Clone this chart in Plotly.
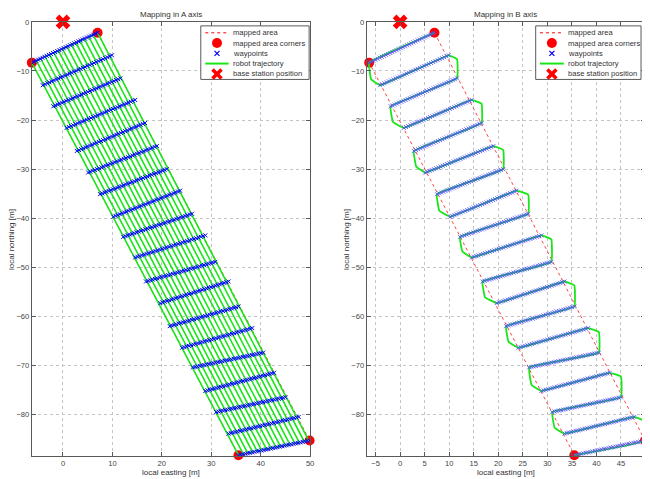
import plotly.graph_objects as go

# ---------------- data ----------------
# corners of the mapped area (local easting / northing, metres)
corner_east = [-6.3, 7.0, 49.9, 35.5]
corner_north = [-8.3, -2.2, -85.3, -88.3]
# base station position
base_east = [0.0]
base_north = [0.0]

# waypoint rows (end points of each row of waypoints)
row_left_east = [-6.3, -4.1, -1.95, 0.75, 2.8, 5.1, 7.5, 10.2, 12.2, 14.6,
                 16.8, 19.7, 21.6, 24.1, 26.3, 28.8, 31.0, 33.5, 35.5]
row_left_north = [-8.3, -12.9, -17.2, -21.6, -26.3, -30.7, -35.1, -39.7, -43.8, -48.0,
                  -52.9, -57.3, -62.0, -66.4, -70.4, -75.2, -79.5, -83.9, -88.3]
row_right_east = [7.0, 9.9, 11.6, 14.6, 16.6, 19.0, 21.0, 23.7, 26.1, 28.8,
                  30.8, 33.5, 35.5, 38.3, 40.5, 42.7, 45.0, 47.7, 49.9]
row_right_north = [-2.2, -6.8, -11.5, -15.9, -20.6, -25.3, -30.0, -34.4, -39.1, -43.5,
                   -48.9, -52.9, -58.0, -62.4, -67.4, -71.5, -76.5, -80.5, -85.3]
waypoints_per_row = [32, 32, 32, 32, 32, 32, 32, 32, 32, 32,
                     32, 32, 32, 32, 32, 32, 32, 32, 32]

# B-axis trajectory: bend point of each turn between two rows (turn 1 .. 18)
turn_east = [-5.9, 11.6, -1.45, 16.6, 3.3, 21.0, 8.0, 26.1, 12.7,
             30.8, 17.3, 35.5, 22.1, 40.5, 26.8, 45.0, 31.5, 49.7]
turn_north = [-11.7, -7.6, -20.4, -16.7, -29.5, -26.1, -38.5, -35.2, -46.8,
              -44.3, -56.1, -53.7, -65.2, -63.2, -74.0, -72.3, -82.7, -81.3]

# A-axis passes (top and bottom end of each pass)
col_top_east = [-6.3, -5.4, -4.5, -3.6, -2.7, -1.8, -0.9, -0.1, 0.8, 1.7, 2.6, 3.4, 4.3, 5.2, 6.1, 7.0]
col_top_north = [-8.3, -7.9, -7.5, -7.1, -6.7, -6.3, -5.9, -5.5, -5.0, -4.6, -4.2, -3.8, -3.4, -3.0, -2.6, -2.2]
col_bottom_east = [35.5, 36.5, 37.4, 38.4, 39.3, 40.2, 41.2, 42.1, 43.1, 44.0, 45.0, 45.9, 46.9, 47.8, 48.8, 49.7]
col_bottom_north = [-88.3, -88.1, -87.9, -87.7, -87.5, -87.3, -87.1, -86.9, -86.7, -86.5, -86.3, -86.1, -85.9, -85.7, -85.5, -85.3]

x_ticks_a = [0, 10, 20, 30, 40, 50]
x_ticks_b = [-5, 0, 5, 10, 15, 20, 25, 30, 35, 40, 45]
y_ticks = [0, -10, -20, -30, -40, -50, -60, -70, -80]

titles = ["Mapping in A axis", "Mapping in B axis"]
legend_labels = ["mapped area", "mapped area corners", "waypoints",
                 "robot trajectory", "base station position"]

# ---------------- derived geometry ----------------
area_e = corner_east + [corner_east[0]]
area_n = corner_north + [corner_north[0]]

wp_e, wp_n = [], []
for k, n in enumerate(waypoints_per_row):
    for j in range(n):
        f = j / (n - 1)
        wp_e.append(row_left_east[k] + f * (row_right_east[k] - row_left_east[k]))
        wp_n.append(row_left_north[k] + f * (row_right_north[k] - row_left_north[k]))

traj_b_e, traj_b_n = [], []
for k in range(len(row_left_east)):
    if k % 2 == 0:
        traj_b_e += [row_right_east[k], row_left_east[k]]
        traj_b_n += [row_right_north[k], row_left_north[k]]
    else:
        traj_b_e += [row_left_east[k], row_right_east[k]]
        traj_b_n += [row_left_north[k], row_right_north[k]]
    if k < len(turn_east):
        traj_b_e.append(turn_east[k])
        traj_b_n.append(turn_north[k])

traj_a_e, traj_a_n = [], []
for i in range(len(col_top_east)):
    if i % 2 == 0:
        traj_a_e += [col_top_east[i], col_bottom_east[i]]
        traj_a_n += [col_top_north[i], col_bottom_north[i]]
    else:
        traj_a_e += [col_bottom_east[i], col_top_east[i]]
        traj_a_n += [col_bottom_north[i], col_top_north[i]]

# page pixels -> paper (the page body adds an 8 px margin)
OFF = 8
W, H = 650 - OFF, 479 - OFF
def PX(p):
    return (p - OFF) / W
def PY(p):
    return 1 - (p - OFF) / H

RED = "#ff0000"
GREEN = "#19e619"
BLUE = "#0000ff"

fig = go.Figure()

for idx, (xa, ya) in enumerate([("x", "y"), ("x2", "y2")]):
    traj_e = traj_a_e if idx == 0 else traj_b_e
    traj_n = traj_a_n if idx == 0 else traj_b_n
    fig.add_trace(go.Scatter(x=area_e, y=area_n, mode="lines", xaxis=xa, yaxis=ya,
                             line=dict(color="rgba(255,0,0,0.75)", width=1, dash="dot"),
                             showlegend=False, hoverinfo="skip"))
    fig.add_trace(go.Scatter(x=corner_east, y=corner_north, mode="markers", xaxis=xa, yaxis=ya,
                             marker=dict(symbol="circle", size=10, color=RED, line=dict(width=0)),
                             cliponaxis=False, showlegend=False))
    if idx == 0:
        tline = dict(color=GREEN, width=1.6)
    else:
        tline = dict(color=GREEN, width=1.8, shape="spline", smoothing=0.25)
    fig.add_trace(go.Scatter(x=traj_e, y=traj_n, mode="lines", xaxis=xa, yaxis=ya,
                             line=tline, showlegend=False))
    fig.add_trace(go.Scatter(x=wp_e, y=wp_n, mode="markers", xaxis=xa, yaxis=ya,
                             marker=dict(symbol="x-thin", size=4, color=BLUE,
                                         line=dict(width=1 if idx == 0 else 0.8,
                                                   color=BLUE if idx == 0 else "#4a4aff")),
                             showlegend=False))
    fig.add_trace(go.Scatter(x=base_east, y=base_north, mode="markers", xaxis=xa, yaxis=ya,
                             marker=dict(symbol="x", size=13, color=RED, line=dict(width=0)),
                             cliponaxis=False, showlegend=False))

axis_common = dict(showline=True, linecolor="#5a5a5a", linewidth=1, mirror="ticks",
                   ticks="inside", ticklen=4, tickcolor="#5a5a5a",
                   showgrid=True, gridcolor="#c4c4c4", griddash="dot", gridwidth=1,
                   zeroline=False, tickfont=dict(family="Liberation Sans, Arial", size=7.6, color="#444"))

y_dom = [PY(456), PY(18)]
fig.update_layout(
    width=W, height=H, margin=dict(l=0, r=0, t=0, b=0),
    paper_bgcolor="white", plot_bgcolor="white", showlegend=False,
    xaxis=dict(domain=[PX(32), PX(312)], range=[-6.3, 50], tickvals=x_ticks_a,
               anchor="y", **axis_common),
    yaxis=dict(domain=y_dom, range=[-88.5, 0], tickvals=y_ticks, anchor="x", **axis_common),
    xaxis2=dict(domain=[PX(369), PX(649)], range=[-6.8, 49.9], tickvals=x_ticks_b,
                anchor="y2", **axis_common),
    yaxis2=dict(domain=y_dom, range=[-88.5, 0], tickvals=y_ticks, anchor="x2", **axis_common),
)

FONT = dict(family="Liberation Sans, Arial", size=8, color="#333")
LFONT = dict(family="Liberation Sans, Arial", size=7.6, color="#333")
annotations = []
shapes = []
# titles and axis labels
for cx, ylab_x, title in [(172, 11, titles[0]), (509, 348, titles[1])]:
    annotations.append(dict(x=PX(cx), y=PY(11), xref="paper", yref="paper", text=title,
                            showarrow=False, font=FONT, xanchor="center", yanchor="middle"))
    annotations.append(dict(x=PX(cx), y=PY(472.5), xref="paper", yref="paper", text="local easting [m]",
                            showarrow=False, font=FONT, xanchor="center", yanchor="middle"))
    annotations.append(dict(x=PX(ylab_x), y=PY(237), xref="paper", yref="paper", text="local northing [m]",
                            showarrow=False, font=FONT, xanchor="center", yanchor="middle", textangle=-90))

# legends (drawn as layout decoration)
row_y = [29, 39.3, 49.7, 60, 70.5]
for bx0, bx1, lx0, lx1, mx, tx in [(202, 311, 206.5, 230, 218.3, 232.5),
                                   (539, 645, 543.3, 567.3, 555.3, 570)]:
    shapes.append(dict(type="rect", xref="paper", yref="paper", x0=PX(bx0), x1=PX(bx1),
                       y0=PY(76), y1=PY(22), fillcolor="white", line=dict(color="#5a5a5a", width=1),
                       layer="above"))
    shapes.append(dict(type="line", xref="paper", yref="paper", x0=PX(lx0), x1=PX(lx1),
                       y0=PY(row_y[0]), y1=PY(row_y[0]), line=dict(color=RED, width=1, dash="dot"),
                       layer="above"))
    shapes.append(dict(type="circle", xref="paper", yref="paper", xsizemode="pixel", ysizemode="pixel",
                       xanchor=PX(mx), yanchor=PY(row_y[1]), x0=-5, x1=5, y0=-5, y1=5,
                       fillcolor=RED, line=dict(width=0), layer="above"))
    for sgn in (1, -1):
        shapes.append(dict(type="line", xref="paper", yref="paper", xsizemode="pixel", ysizemode="pixel",
                           xanchor=PX(mx), yanchor=PY(row_y[2]), x0=-2.5, x1=2.5, y0=-2.5 * sgn, y1=2.5 * sgn,
                           line=dict(color=BLUE, width=1.2), layer="above"))
    shapes.append(dict(type="line", xref="paper", yref="paper", x0=PX(lx0), x1=PX(lx1),
                       y0=PY(row_y[3]), y1=PY(row_y[3]), line=dict(color=GREEN, width=2),
                       layer="above"))
    for sgn in (1, -1):
        shapes.append(dict(type="line", xref="paper", yref="paper", xsizemode="pixel", ysizemode="pixel",
                           xanchor=PX(mx), yanchor=PY(row_y[4]), x0=-4.5, x1=4.5, y0=-4.5 * sgn, y1=4.5 * sgn,
                           line=dict(color=RED, width=3.5), layer="above"))
    for yy, lab in zip(row_y, legend_labels):
        annotations.append(dict(x=PX(tx), y=PY(yy), xref="paper", yref="paper", text=lab,
                                showarrow=False, font=LFONT, xanchor="left", yanchor="middle"))

fig.update_layout(annotations=annotations, shapes=shapes)
fig.write_html("out.html")
